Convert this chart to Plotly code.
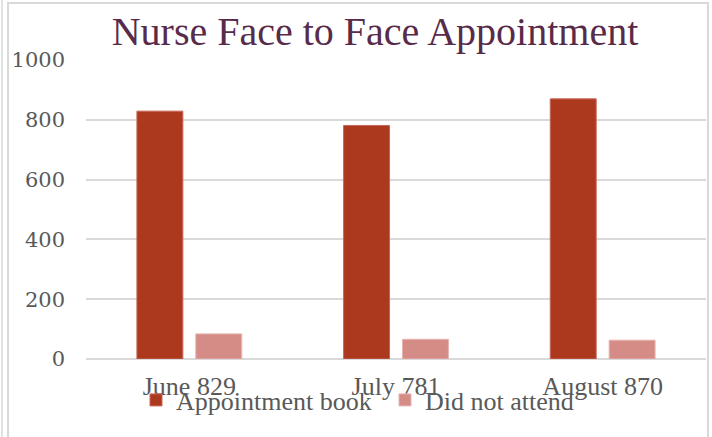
import plotly.graph_objects as go

categories = ["June 829", "July 781", "August 870"]
appointment_book = [829, 781, 870]
did_not_attend = [84, 66, 63]
y_ticks = [0, 200, 400, 600, 800, 1000]

W, H = 712, 437
L, R, T, B = 86, 6, 60, 78
pw, ph = W - L - R, H - T - B

def px(x):
    return (x - L) / pw

def py(y):
    return (H - B - y) / ph

fig = go.Figure()
fig.add_trace(go.Bar(x=categories, y=appointment_book, name="Appointment book",
                     marker=dict(color="#AC391E", line=dict(color="#C8665A", width=1))))
fig.add_trace(go.Bar(x=categories, y=did_not_attend, name="Did not attend",
                     marker=dict(color="#D58C87", line=dict(color="#E6B4B0", width=1))))

fig.update_layout(
    width=W, height=H,
    margin=dict(l=L, r=R, t=T, b=B, autoexpand=False),
    paper_bgcolor="white", plot_bgcolor="white",
    barmode="group", bargap=0.43, bargroupgap=0.22,
    title=dict(text="Nurse Face to Face Appointment", x=(113 + 637) / 2 / W, xanchor="center",
               y=1 - 31 / H, yanchor="middle",
               font=dict(family="Liberation Serif", size=40, color="#582B4A")),
    xaxis=dict(showgrid=False, showline=False, ticks="", ticklabelstandoff=9,
               tickfont=dict(family="Liberation Serif", size=26, color="#595959")),
    yaxis=dict(range=[0, 1000], tickvals=y_ticks, showgrid=True, gridcolor="#D9D9D9", gridwidth=2,
               zeroline=True, zerolinecolor="#D9D9D9", zerolinewidth=2, showline=False, ticks="",
               ticklabelstandoff=20,
               tickfont=dict(family="DejaVu Serif", size=21, color="#595959")),
    legend=dict(orientation="h", x=px(136), xanchor="left", y=py(400), yanchor="middle",
                font=dict(family="Liberation Serif", size=26, color="#595959"),
                itemwidth=30, entrywidth=204, traceorder="normal", bgcolor="rgba(0,0,0,0)"),
    shapes=[
        dict(type="rect", xref="paper", yref="paper", x0=px(8), x1=px(708), y0=py(445), y1=py(3),
             line=dict(color="#D9D9D9", width=2), fillcolor="rgba(0,0,0,0)", layer="below"),
        dict(type="line", xref="paper", yref="paper", x0=px(2), x1=px(2), y0=py(445), y1=py(0),
             line=dict(color="#D9D9D9", width=1.5)),
    ],
)

fig.write_html("out.html", config={"displayModeBar": False},
               post_script="document.body.style.margin='0';")
